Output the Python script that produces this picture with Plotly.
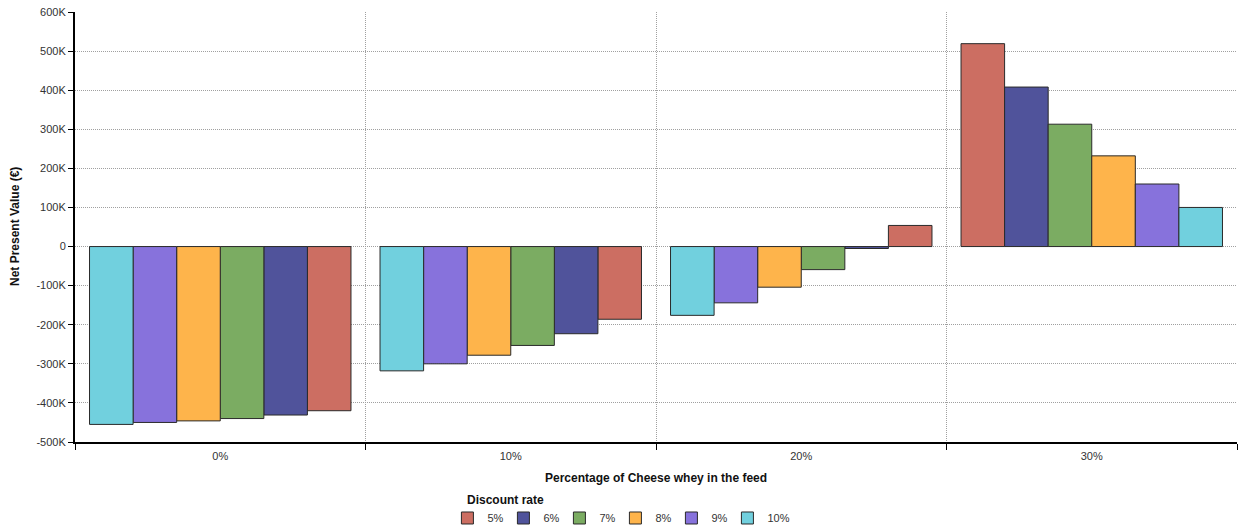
import plotly.graph_objects as go

categories = ["0%", "10%", "20%", "30%"]
series_names = ["5%", "6%", "7%", "8%", "9%", "10%"]
npv_5 = [-420000, -186000, 54000, 519000]
npv_6 = [-431000, -223000, -5000, 408000]
npv_7 = [-440000, -253000, -59000, 313000]
npv_8 = [-446000, -278000, -104000, 232000]
npv_9 = [-450000, -300000, -144000, 160000]
npv_10 = [-455000, -318000, -176000, 100000]
series_values = [npv_5, npv_6, npv_7, npv_8, npv_9, npv_10]
# left-to-right order of the series inside each category group
bar_order = [
    ["10%", "9%", "8%", "7%", "6%", "5%"],
    ["10%", "9%", "8%", "7%", "6%", "5%"],
    ["10%", "9%", "8%", "7%", "6%", "5%"],
    ["5%", "6%", "7%", "8%", "9%", "10%"],
]
y_tickvals = [-500000, -400000, -300000, -200000, -100000, 0, 100000, 200000, 300000, 400000, 500000, 600000]
y_ticktext = ["-500K", "-400K", "-300K", "-200K", "-100K", "0", "100K", "200K", "300K", "400K", "500K", "600K"]
x_title = "Percentage of Cheese whey in the feed"
y_title = "Net Present Value (€)"
legend_title = "Discount rate"

colors = ["#CC6E62", "#50539B", "#7BAC62", "#FEB44B", "#8772DC", "#71D0DE"]

group_span = 0.9
bar_w = group_span / len(series_names)

fig = go.Figure()
for name, vals, col in zip(series_names, series_values, colors):
    offsets = [-group_span / 2 + order.index(name) * bar_w for order in bar_order]
    fig.add_trace(go.Bar(
        x=categories, y=vals, name=name,
        width=bar_w, offset=offsets,
        marker=dict(color=col, line=dict(color="#2a2a2a", width=1)),
    ))

# invisible legend spacer so the last legend label is not clipped
fig.add_trace(go.Bar(
    x=categories[:1], y=[None], name=" ", showlegend=True, hoverinfo="skip",
    marker=dict(color="rgba(0,0,0,0)", line=dict(width=0)),
))

title_font = dict(size=12, color="#111111")
fig.update_layout(
    width=1244, height=527,
    barmode="overlay",
    plot_bgcolor="white", paper_bgcolor="white",
    margin=dict(l=75, r=7, t=12, b=85, autoexpand=False),
    font=dict(family="Liberation Sans, Arial, sans-serif", size=11, color="#333333"),
    showlegend=True,
    legend=dict(
        orientation="h", x=0.3205, xanchor="left", y=-0.143, yanchor="top",
        font=dict(size=11, color="#333333"),
        itemwidth=30, tracegroupgap=0,
        entrywidth=11, entrywidthmode="pixels",
    ),
    annotations=[
        dict(text=f"<b>{legend_title}</b>", xref="paper", yref="paper",
             x=0.336, y=-0.135, xanchor="left", yanchor="middle", showarrow=False,
             font=title_font),
        dict(text=f"<b>{x_title}</b>", xref="paper", yref="paper",
             x=0.5, y=-0.084, xanchor="center", yanchor="middle", showarrow=False,
             font=title_font),
        dict(text=f"<b>{y_title}</b>", xref="paper", yref="paper",
             x=-0.0516, y=0.5, xanchor="center", yanchor="middle", showarrow=False,
             textangle=-90, font=title_font),
    ],
)
fig.update_xaxes(
    type="category", categoryorder="array", categoryarray=categories,
    tickson="boundaries", ticks="outside", ticklen=6, tickcolor="#000000",
    showgrid=True, gridcolor="#a0a0a0", griddash="1px,1px", gridwidth=1,
    showline=True, linecolor="#000000", linewidth=2,
    tickfont=dict(size=11, color="#333333"), ticklabelstandoff=3,
    range=[-0.5, 3.5], automargin=False,
)
fig.update_yaxes(
    range=[-500000, 600000], tickvals=y_tickvals, ticktext=y_ticktext,
    ticks="outside", ticklen=5, tickcolor="#000000",
    showgrid=True, gridcolor="#a0a0a0", griddash="1px,1px", gridwidth=1,
    zeroline=False,
    showline=True, linecolor="#000000", linewidth=2,
    tickfont=dict(size=11, color="#333333"),
    automargin=False,
)

fig.write_html("out.html", config={"displayModeBar": False},
               post_script="document.body.style.margin='0px';")
